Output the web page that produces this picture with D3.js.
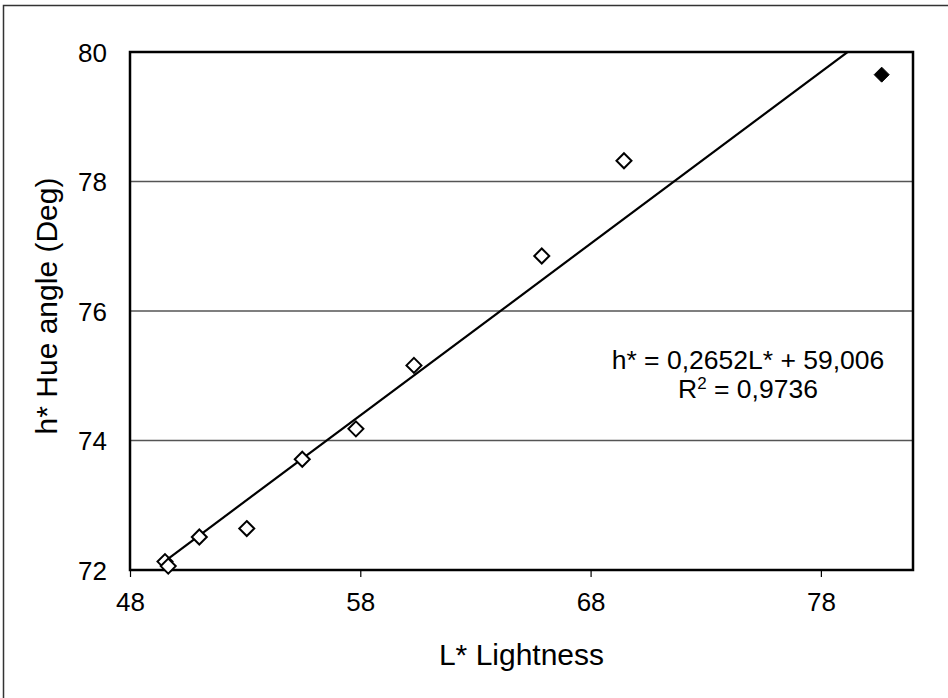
<!DOCTYPE html>
<html><head><meta charset="utf-8">
<script src="https://cdn.jsdelivr.net/npm/d3@7"></script>
<style>body{margin:0;background:#fff}svg{display:block}text{font-family:"Liberation Sans",Arial,sans-serif;fill:#000}</style>
</head><body>
<script>
const lightness = [49.52, 49.66, 51.01, 53.07, 55.48, 57.81, 60.33, 65.88, 69.45];
const hueAngle  = [72.13, 72.06, 72.51, 72.64, 73.71, 74.18, 75.16, 76.85, 78.32];
const extraL = [80.64];
const extraH = [79.65];
const xTicks = [48, 58, 68, 78];
const yTicks = [72, 74, 76, 78, 80];
const slope = 0.2652, intercept = 59.006;
const eqText = "h* = 0,2652L* + 59,006";

const W = 948, H = 698;
const m = {left:130, top:52, right:913, bottom:570};
const FONT = '"Liberation Sans",Arial,sans-serif';
const svg = d3.select("body").append("svg").attr("width", W).attr("height", H);

// outer frame
svg.append("path").attr("d", `M3.5,${H} V5.5 H${W}`).attr("fill","none").attr("stroke","#333").attr("stroke-width",1.5);

const x = d3.scaleLinear().domain([48, 82]).range([m.left, m.right]);
const y = d3.scaleLinear().domain([72, 80]).range([m.bottom, m.top]);

// gridlines
svg.append("g").selectAll("line").data(yTicks.filter(t => t > 72 && t < 80)).join("line")
  .attr("x1", m.left).attr("x2", m.right).attr("y1", d => y(d)).attr("y2", d => y(d))
  .attr("stroke", "#555").attr("stroke-width", 1.3);

// x axis
const xa = svg.append("g").attr("transform", `translate(0,${m.bottom})`)
  .call(d3.axisBottom(x).tickValues(xTicks).tickSize(7).tickPadding(0).tickFormat(d3.format("d")));
xa.select(".domain").remove();
xa.selectAll("line").attr("stroke", "#000").attr("stroke-width", 1.2);
xa.selectAll("text").attr("font-size", 26).attr("dy", null).attr("y", 41).style("font-family", FONT);

// y axis labels
const ya = svg.append("g").attr("transform", `translate(${m.left},0)`)
  .call(d3.axisLeft(y).tickValues(yTicks).tickSize(0).tickPadding(23).tickFormat(d3.format("d")));
ya.select(".domain").remove();
ya.selectAll("text").attr("font-size", 26).attr("dy", "0.35em").style("font-family", FONT);

// plot frame
svg.append("rect").attr("x", m.left).attr("y", m.top).attr("width", m.right - m.left).attr("height", m.bottom - m.top)
  .attr("fill", "none").attr("stroke", "#000").attr("stroke-width", 2.5);

// trendline (clipped)
svg.append("clipPath").attr("id","cp").append("rect").attr("x", m.left).attr("y", m.top).attr("width", m.right - m.left).attr("height", m.bottom - m.top);
const allL = lightness.concat(extraL);
const l0 = d3.min(allL), l1 = d3.max(allL);
svg.append("line").attr("clip-path","url(#cp)")
  .attr("x1", x(l0)).attr("y1", y(slope*l0+intercept))
  .attr("x2", x(l1)).attr("y2", y(slope*l1+intercept))
  .attr("stroke", "#000").attr("stroke-width", 2.2);

// diamonds
const diamond = "M0,-7.5 L7.5,0 L0,7.5 L-7.5,0 Z";
svg.append("g").selectAll("path").data(lightness.map((l,i)=>[l,hueAngle[i]])).join("path")
  .attr("d", diamond).attr("transform", d => `translate(${x(d[0])},${y(d[1])})`)
  .attr("fill", "#fff").attr("stroke", "#000").attr("stroke-width", 2);
svg.append("g").selectAll("path").data(extraL.map((l,i)=>[l,extraH[i]])).join("path")
  .attr("d", diamond).attr("transform", d => `translate(${x(d[0])},${y(d[1])})`)
  .attr("fill", "#000").attr("stroke", "#000").attr("stroke-width", 1);

// equation
svg.append("text").attr("x", 748).attr("y", 369).attr("text-anchor","middle").attr("font-size", 26.5).text(eqText);
const r2 = svg.append("text").attr("x", 748).attr("y", 398).attr("text-anchor","middle").attr("font-size", 26.5);
r2.append("tspan").text("R");
r2.append("tspan").attr("font-size", 17).attr("dy", -9).text("2");
r2.append("tspan").attr("dy", 9).text(" = 0,9736");

// axis titles
svg.append("text").attr("x", (m.left+m.right)/2).attr("y", 665).attr("text-anchor","middle").attr("font-size", 30).text("L* Lightness");
svg.append("text").attr("transform", `translate(57,306) rotate(-90)`).attr("text-anchor","middle").attr("font-size", 30).text("h* Hue angle (Deg)");
</script>
</body></html>
